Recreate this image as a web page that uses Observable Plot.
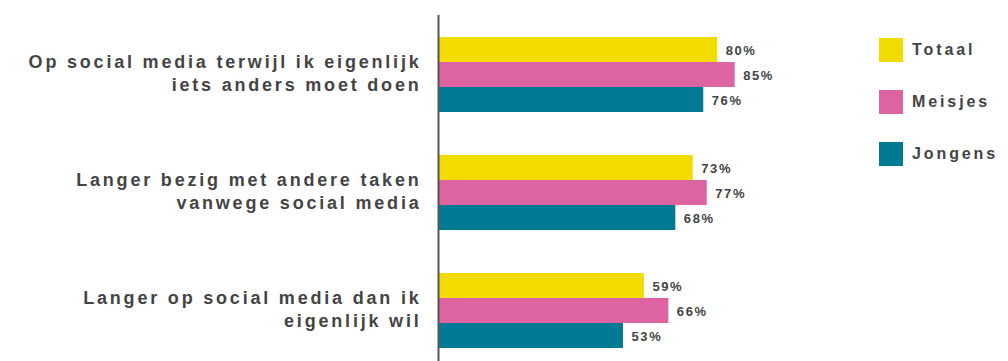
<!DOCTYPE html>
<html>
<head>
<meta charset="utf-8">
<script src="https://cdn.jsdelivr.net/npm/d3@7"></script>
<script src="https://cdn.jsdelivr.net/npm/@observablehq/plot@0.6"></script>
<style>
  html, body { margin: 0; padding: 0; background: #fff; }
  #wrap { position: relative; width: 1008px; height: 361px; overflow: hidden; }
  #legend { position: absolute; left: 879px; top: 38px; font-family: "Liberation Sans", Arial, sans-serif; font-weight: bold; font-size: 16px; letter-spacing: 2.9px; color: #444; }
  .item { display: flex; align-items: center; height: 24px; margin-bottom: 28px; }
  .sw { width: 24px; height: 24px; margin-right: 9px; }
</style>
</head>
<body>
<div id="wrap"><div id="legend"></div></div>
<script>
const questions = [
  "Op social media terwijl ik eigenlijk\niets anders moet doen",
  "Langer bezig met andere taken\nvanwege social media",
  "Langer op social media dan ik\neigenlijk wil"
];
const series = ["Totaal", "Meisjes", "Jongens"];
const totaal = [80, 73, 59];
const meisjes = [85, 77, 66];
const jongens = [76, 68, 53];
const colors = ["#f2dc00", "#de63a1", "#007b93"];

const values = [totaal, meisjes, jongens];
const data = questions.flatMap((q, i) => series.map((s, j) => ({ q, s, v: values[j][i] })));

const chart = Plot.plot({
  width: 1008,
  height: 361,
  marginLeft: 438,
  marginRight: 221,
  marginTop: 15,
  marginBottom: -8,
  style: { fontFamily: "'Liberation Sans', Arial, sans-serif", background: "transparent" },
  x: { domain: [0, 100], axis: null },
  y: { domain: series, axis: null, paddingInner: 0, paddingOuter: 0.77 },
  fy: { domain: questions, paddingInner: 0, paddingOuter: 0, label: null, axis: null },
  color: { domain: series, range: colors },
  marks: [
    Plot.barX(data, { fy: "q", y: "s", x: "v", fill: "s" }),
    Plot.text(data, {
      fy: "q", y: "s", x: "v", text: d => d.v + "%", dx: 8, dy: 1,
      textAnchor: "start", fontSize: 13, fontWeight: "bold", fill: "#444"
    }),
    Plot.ruleX([0], { stroke: "#555", strokeWidth: 2 }),
    Plot.axisFy({
      anchor: "left", tickSize: 0, tickPadding: 17, fontSize: 18, fontWeight: "bold",
      lineHeight: 1.28, dy: -2, fill: "#444", label: null
    })
  ]
});
chart.querySelectorAll("[aria-label='fy-axis tick label'] text").forEach(t => t.style.letterSpacing = "2.8px");
chart.querySelectorAll("[aria-label='text'] text").forEach(t => t.style.letterSpacing = "1.6px");
document.getElementById("wrap").prepend(chart);

const legend = d3.select("#legend");
series.forEach((s, i) => {
  const item = legend.append("div").attr("class", "item");
  item.append("div").attr("class", "sw").style("background", colors[i]);
  item.append("span").text(s);
});
</script>
</body>
</html>
